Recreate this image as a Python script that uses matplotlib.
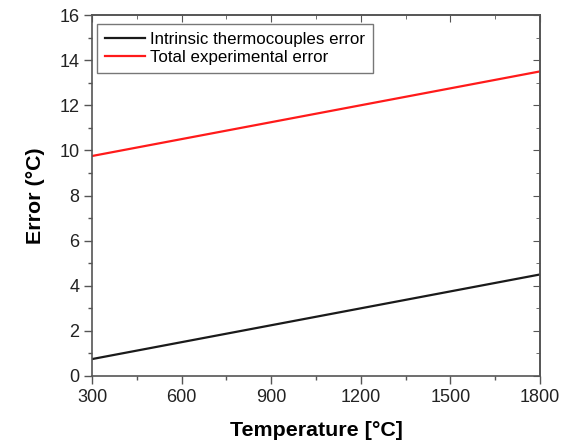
import numpy as np
import matplotlib
matplotlib.use("Agg")
import matplotlib.pyplot as plt
from matplotlib.ticker import MultipleLocator

plt.rcParams['font.family'] = ['Liberation Sans', 'DejaVu Sans']

temperature = [300, 1800]
intrinsic_error = [0.75, 4.5]
total_error = [9.75, 13.5]

fig = plt.figure(figsize=(5.73, 4.42), dpi=100)
ax = fig.add_axes([92/573, 1-376/442, (540-92)/573, (376-15)/442])

ax.plot(temperature, intrinsic_error, color='#1a1a1a', lw=1.6, label='Intrinsic thermocouples error')
ax.plot(temperature, total_error, color='#ff1a1a', lw=1.6, label='Total experimental error')

ax.set_xlim(300, 1800)
ax.set_ylim(0, 16)
ax.xaxis.set_major_locator(MultipleLocator(300))
ax.xaxis.set_minor_locator(MultipleLocator(150))
ax.yaxis.set_major_locator(MultipleLocator(2))
ax.yaxis.set_minor_locator(MultipleLocator(1))
ax.tick_params(which='both', direction='out', labelsize=13, color='#555555', labelcolor='#222222', pad=3.5)
ax.tick_params(which='major', length=5.5, width=1)
ax.tick_params(which='minor', length=3, width=1)
for s in ax.spines.values():
    s.set_color('#555555')
    s.set_linewidth(1.2)

# mirrored inward ticks on top/right
axt = ax.secondary_xaxis('top')
axt.xaxis.set_major_locator(MultipleLocator(300))
axt.xaxis.set_minor_locator(MultipleLocator(150))
axt.tick_params(which='both', direction='in', labeltop=False, color='#555555')
axt.tick_params(which='major', length=5)
axt.tick_params(which='minor', length=3)
axr = ax.secondary_yaxis('right')
axr.yaxis.set_major_locator(MultipleLocator(2))
axr.yaxis.set_minor_locator(MultipleLocator(1))
axr.tick_params(which='both', direction='in', labelright=False, color='#555555')
axr.tick_params(which='major', length=5)
axr.tick_params(which='minor', length=3)
for sa in (axt, axr):
    for s in sa.spines.values():
        s.set_color('#555555')
        s.set_linewidth(1.2)

ax.set_xlabel('Temperature [°C]', fontsize=15.4, fontweight='bold', labelpad=11)
ax.set_ylabel('Error (°C)', fontsize=15.4, fontweight='bold', labelpad=10)

leg = ax.legend(loc='upper left', bbox_to_anchor=(5/448, 1-9/361), borderaxespad=0,
                fontsize=12.2, frameon=True, fancybox=False,
                edgecolor='#555555', handlelength=2.4, borderpad=0.45,
                handletextpad=0.3, labelspacing=0.22)
leg.get_frame().set_linewidth(1.0)

fig.savefig('out.png', dpi=100)
